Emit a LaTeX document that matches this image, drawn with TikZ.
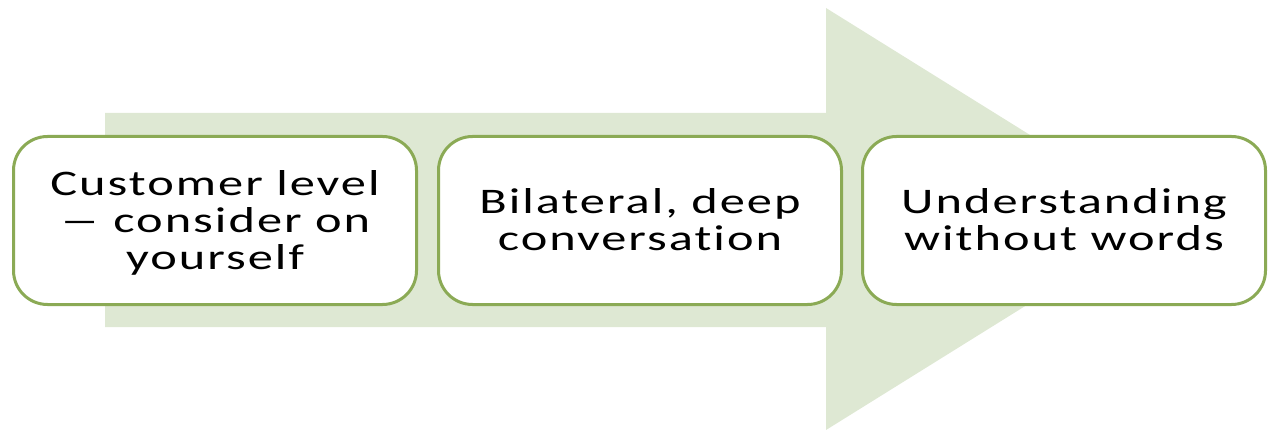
\documentclass[tikz,border=0pt]{standalone}
\usepackage{fontspec}
\setmainfont{Carlito}[LetterSpace=4, Ligatures={NoCommon}, RawFeature={-liga;-dlig}]
\definecolor{arrowfill}{HTML}{DEE8D3}
\definecolor{boxline}{HTML}{8BAA55}
\tikzset{
  x=1pt, y=1pt,
  stagebox/.style={draw=boxline, line width=3pt, fill=white,
    rounded corners=34pt, minimum width=403pt, minimum height=168pt,
    inner sep=0pt, anchor=north west},
  stagetext/.style={align=center, font=\fontsize{36}{37}\selectfont,
    inner sep=0pt}
}
\newcommand{\wide}[1]{\scalebox{1.4}[1]{#1}}
\newcommand{\longdash}{\scalebox{1.6}[1]{–}}
\begin{document}
\begin{tikzpicture}
\useasboundingbox (0,0) rectangle (1268,-430);
% background process arrow
\fill[arrowfill] (105,-113) -- (826,-113) -- (826,-8) -- (1165,-219)
  -- (826,-430) -- (826,-327) -- (105,-327) -- cycle;
% stages
\node[stagebox] (s1) at (12,-135) {};
\node[stagebox] (s2) at (437,-135) {};
\node[stagebox] (s3) at (861,-135) {};
\node[stagetext] (t1) at ([yshift=-2pt]s1.center)
  {\wide{Customer level}\\\wide{\longdash{} consider on}\\\wide{yourself}};
\node[stagetext] (t2) at ([yshift=1pt]s2.center)
  {\wide{Bilateral, deep}\\\wide{conversation}};
\node[stagetext] (t3) at ([yshift=1pt]s3.center)
  {\wide{Understanding}\\\wide{without words}};
\end{tikzpicture}
\end{document}
